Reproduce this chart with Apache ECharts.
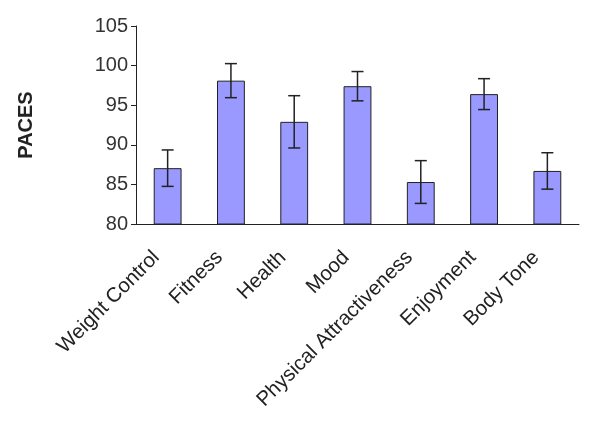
<!DOCTYPE html>
<html>
<head>
<meta charset="utf-8">
<script src="https://cdn.jsdelivr.net/npm/echarts@6/dist/echarts.min.js"></script>
<style>html,body{margin:0;padding:0;background:#fff}#c{width:600px;height:423px}</style>
</head>
<body>
<div id="c"></div>
<script>
var categories = ['Weight Control', 'Fitness', 'Health', 'Mood', 'Physical Attractiveness', 'Enjoyment', 'Body Tone'];
var means = [87.05, 98.1, 92.9, 97.4, 85.3, 96.4, 86.7];
var errors = [2.3, 2.15, 3.3, 1.85, 2.7, 1.95, 2.3];
var yTicks = { min: 80, max: 105, interval: 5 };

var errData = categories.map(function (c, i) { return [i, means[i] - errors[i], means[i] + errors[i]]; });

var chart = echarts.init(document.getElementById('c'), null, { renderer: 'canvas' });
var font = 'Liberation Sans, Arial, sans-serif';
chart.setOption({
  animation: false,
  grid: { left: 136, right: 21, top: 26, bottom: 199, containLabel: false },
  xAxis: {
    type: 'category',
    data: categories,
    axisLine: { lineStyle: { color: '#222', width: 1 } },
    axisTick: { show: false },
    axisLabel: { rotate: 45, margin: 19, padding: [0, 16, 0, 0], fontSize: 20.5, color: '#222', fontFamily: font, interval: 0 }
  },
  yAxis: {
    type: 'value',
    min: yTicks.min, max: yTicks.max, interval: yTicks.interval,
    name: 'PACES',
    nameLocation: 'middle',
    nameGap: 100,
    nameTextStyle: { fontSize: 20, fontWeight: 'bold', color: '#222', fontFamily: font },
    axisLine: { show: true, lineStyle: { color: '#222', width: 1 } },
    axisTick: { show: true, length: 5, lineStyle: { color: '#222' } },
    axisLabel: { fontSize: 20, color: '#333', fontFamily: font, margin: 8 },
    splitLine: { show: false }
  },
  series: [
    {
      type: 'bar',
      data: means,
      barWidth: '44%',
      itemStyle: { color: '#9999ff', borderColor: '#222', borderWidth: 1 }
    },
    {
      type: 'custom',
      data: errData,
      z: 10,
      renderItem: function (params, api) {
        var x = api.value(0);
        var lo = api.coord([x, api.value(1)]);
        var hi = api.coord([x, api.value(2)]);
        var hw = 6;
        var st = { stroke: '#222', lineWidth: 1.5 };
        return {
          type: 'group',
          children: [
            { type: 'line', shape: { x1: hi[0], y1: hi[1], x2: lo[0], y2: lo[1] }, style: st },
            { type: 'line', shape: { x1: hi[0] - hw, y1: hi[1], x2: hi[0] + hw, y2: hi[1] }, style: st },
            { type: 'line', shape: { x1: lo[0] - hw, y1: lo[1], x2: lo[0] + hw, y2: lo[1] }, style: st }
          ]
        };
      }
    }
  ]
});
</script>
</body>
</html>
